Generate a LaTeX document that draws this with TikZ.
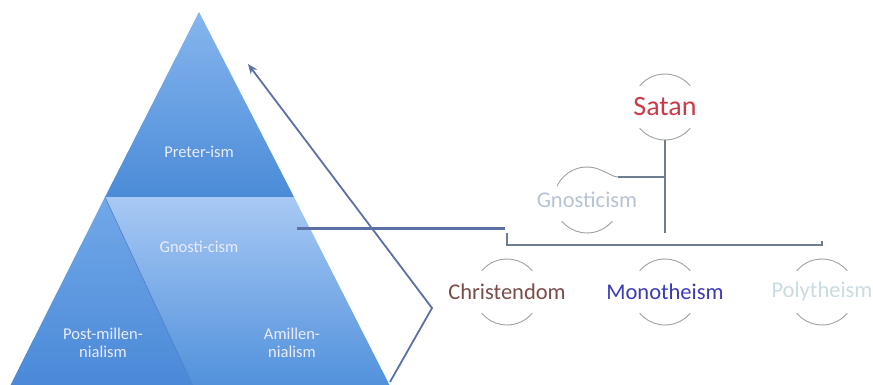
\documentclass[tikz,border=0pt]{standalone}
\usepackage{fontspec}
\setmainfont{Carlito}
\usetikzlibrary{arrows.meta}
\definecolor{topA}{HTML}{86B6EE}
\definecolor{topB}{HTML}{4B8BD8}
\definecolor{rightA}{HTML}{A8C9F4}
\definecolor{rightB}{HTML}{5191DC}
\definecolor{leftA}{HTML}{72A8E8}
\definecolor{leftB}{HTML}{4A89D8}
\definecolor{divline}{HTML}{4A80C8}
\definecolor{linkblue}{HTML}{5D70A6}
\definecolor{treeline}{HTML}{6F7D93}
\definecolor{arcgray}{HTML}{A0A0A0}
\definecolor{satanred}{HTML}{CC3A48}
\definecolor{gnosgray}{HTML}{B8C2D6}
\definecolor{chrbrown}{HTML}{7B4B48}
\definecolor{monoblue}{HTML}{3B3BB5}
\definecolor{polygray}{HTML}{C9DBE2}
\newcommand\bubblearcs[1]{%
  \draw[arcline] (#1.center) ++(220:33) arc[start angle=220,end angle=320,radius=33];
  \draw[arcline] (#1.center) ++(40:33) arc[start angle=40,end angle=140,radius=33];}
\begin{document}
\begin{tikzpicture}[x=1pt,y=-1pt,
  tree/.style={draw=treeline, line width=1.2pt},
  arcline/.style={draw=arcgray, line width=0.9pt},
  concept/.style={circle, minimum size=66pt, inner sep=0pt, font=\fontsize{22.5}{26}\selectfont},
  pyrtext/.style={text=white!92!blue, align=center, font=\fontsize{16.5}{17.5}\selectfont},
  link/.style={draw=linkblue, line width=1.8pt}]
\useasboundingbox (0,0) rectangle (873,385);
% pyramid
\coordinate (apex) at (199,12);
\coordinate (bl) at (10,386);
\coordinate (br) at (390,386);
\coordinate (ml) at (105,197);
\coordinate (mr) at (294,197);
\coordinate (bm) at (193,386);
\shade[top color=topA, bottom color=topB] (apex) -- (ml) -- (mr) -- cycle;
\shade[top color=rightA, bottom color=rightB] (ml) -- (mr) -- (br) -- (bm) -- cycle;
\shade[top color=leftA, bottom color=leftB] (ml) -- (bm) -- (bl) -- cycle;
\draw[divline, line width=0.6pt] (ml) -- (bm);
\node[pyrtext] (pret) at (199,152) {Preter-ism};
\node[pyrtext] (gnpy) at (199,247) {Gnosti-cism};
\node[pyrtext] (post) at (103,343) {Post-millen-\\nialism};
\node[pyrtext] (amil) at (292,343) {Amillen-\\nialism};
% arrows
\coordinate (a0) at (390,382);
\coordinate (a1) at (432,308);
\coordinate (a2) at (248,64);
\draw[link, -{Stealth[length=10pt,width=8pt]}] (a0) -- (a1) -- (a2);
\coordinate (h0) at (297,228);
\coordinate (h1) at (505,228);
\draw[link, line width=3pt] (h0) -- (h1);
% tree
\node[concept, text=satanred, font=\fontsize{28}{32}\selectfont] (satan) at (665,107) {Satan};
\node[concept, text=gnosgray] (gnos) at (587,200) {Gnosticism};
\node[concept, text=chrbrown] (chr) at (507,292) {Christendom};
\node[concept, text=monoblue] (mono) at (665,292) {Monotheism};
\node[concept, text=polygray] (poly) at (822,292) {Polytheism};
\bubblearcs{satan}
\bubblearcs{chr}
\bubblearcs{mono}
\bubblearcs{poly}
\draw[arcline] (gnos.center) ++(40:33) arc[start angle=40,end angle=140,radius=33];
\coordinate (gj) at (618,177);
\coordinate (bar) at (665,245);
\draw[arcline] (gnos.center) ++(205:33) arc[start angle=205,end angle=300,radius=33]
  .. controls (609,173) and (613,177) .. (gj);
\draw[tree] (gj) -- (satan.south |- gj);
\draw[tree] (satan.south) -- (mono.north);
\draw[tree] (chr.north) -- (chr.north |- bar) -- (poly.north |- bar) -- (poly.north);
\end{tikzpicture}
\end{document}
